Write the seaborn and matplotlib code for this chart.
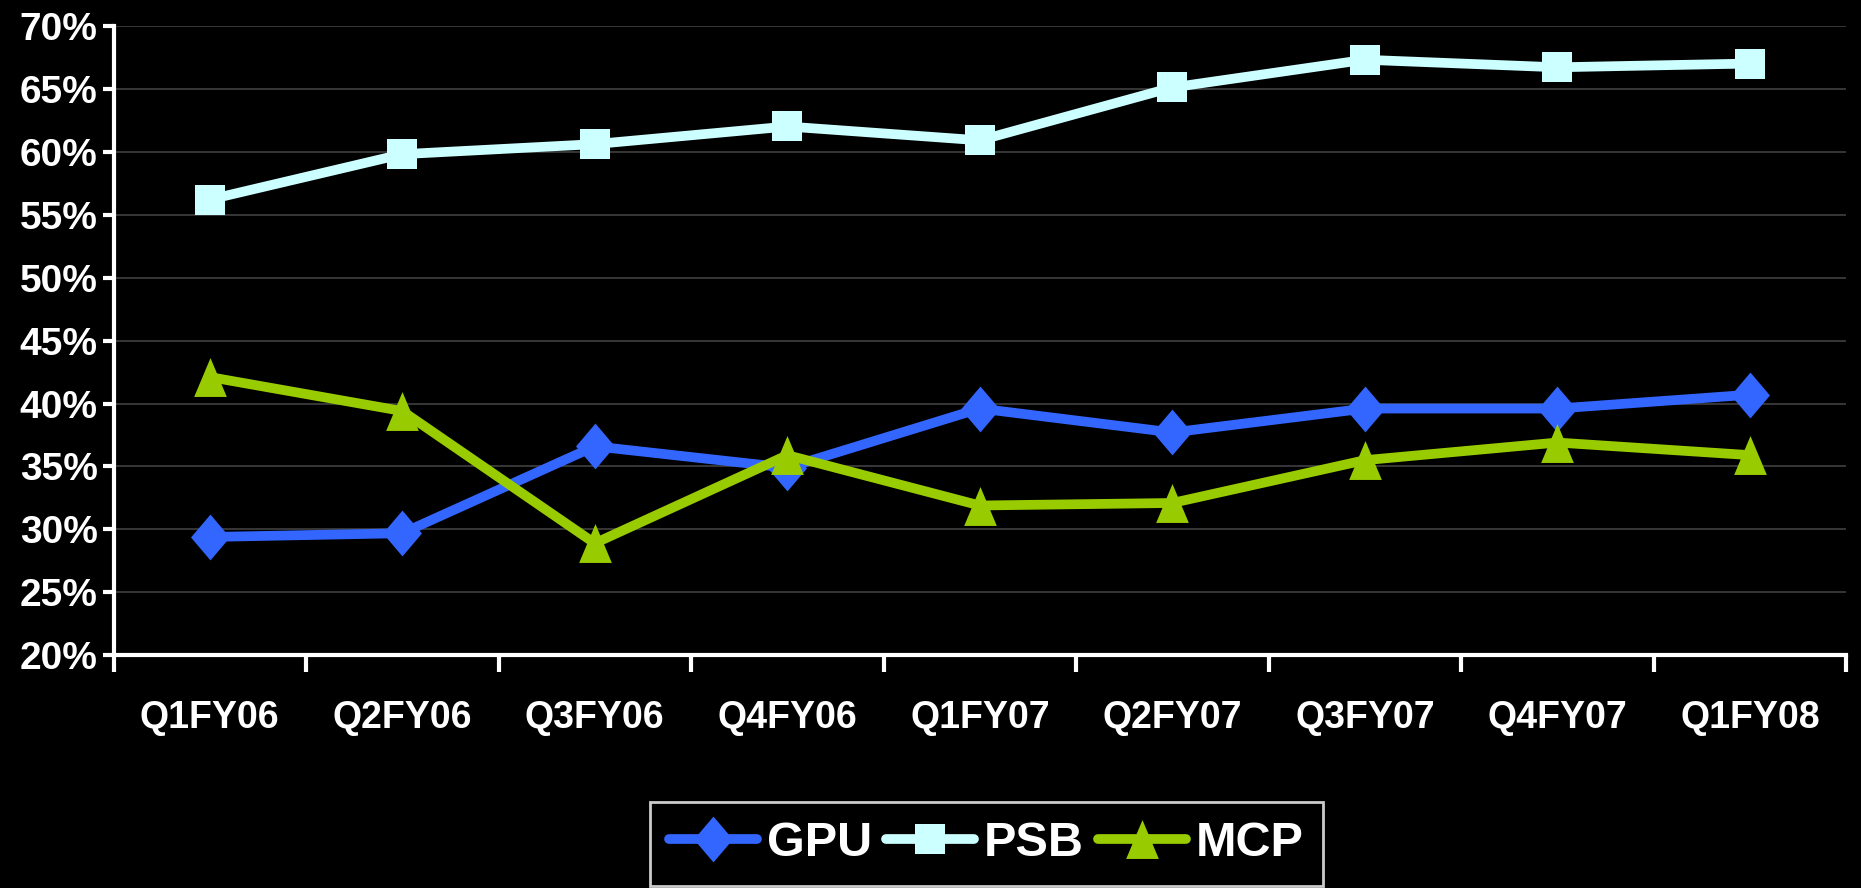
import matplotlib.pyplot as plt
import seaborn as sns
import pandas as pd
from matplotlib.path import Path
from matplotlib.ticker import MultipleLocator, FuncFormatter

quarters = ['Q1FY06', 'Q2FY06', 'Q3FY06', 'Q4FY06', 'Q1FY07',
            'Q2FY07', 'Q3FY07', 'Q4FY07', 'Q1FY08']
gpu = [29.4, 29.7, 36.6, 34.9, 39.6, 37.7, 39.6, 39.6, 40.7]
psb = [56.2, 59.8, 60.6, 62.0, 60.9, 65.1, 67.3, 66.7, 67.0]
mcp = [42.1, 39.4, 28.9, 35.9, 31.9, 32.1, 35.5, 36.9, 35.9]

colors = {'GPU': '#3366FF', 'PSB': '#CCFFFF', 'MCP': '#99CC00'}
# slightly tall diamond / triangle like the office-chart markers
diamond = Path([(0, 1), (0.85, 0), (0, -1), (-0.85, 0), (0, 1)],
               [Path.MOVETO, Path.LINETO, Path.LINETO, Path.LINETO, Path.CLOSEPOLY])
triangle = Path([(0, 1), (0.84, -1), (-0.84, -1), (0, 1)],
                [Path.MOVETO, Path.LINETO, Path.LINETO, Path.CLOSEPOLY])
markers = {'GPU': diamond, 'PSB': 's', 'MCP': triangle}
msizes = {'GPU': 33, 'PSB': 22, 'MCP': 28}

df = pd.DataFrame({'quarter': quarters * 3,
                   'x': list(range(len(quarters))) * 3,
                   'value': gpu + psb + mcp,
                   'series': ['GPU'] * 9 + ['PSB'] * 9 + ['MCP'] * 9})

sns.set_style('dark')
plt.rcParams['font.family'] = ['Liberation Sans', 'DejaVu Sans']
plt.rcParams['font.weight'] = 'bold'

fig = plt.figure(figsize=(18.61, 8.88), dpi=100, facecolor='black')
ax = fig.add_axes([0.061, 0.262, 0.931, 0.709])
ax.set_facecolor('black')

for name in ['GPU', 'PSB', 'MCP']:
    sns.lineplot(data=df[df['series'] == name], x='x', y='value',
                 color=colors[name], marker=markers[name], markersize=msizes[name],
                 markeredgewidth=0, linewidth=7, ax=ax, legend=False)

ax.set_xlim(-0.5, 8.5)
ax.set_ylim(20, 70)
ax.yaxis.set_major_locator(MultipleLocator(5))
ax.yaxis.set_major_formatter(FuncFormatter(lambda v, p: f'{v:.0f}%'))
ax.set_xticks(range(len(quarters)))
ax.set_xticklabels(quarters)
ax.set_xticks([i + 0.5 for i in range(-1, 9)], minor=True)
ax.set_xlabel('')
ax.set_ylabel('')

ax.grid(axis='y', color='#404040', linewidth=1.2)
ax.grid(axis='x', visible=False)
for side in ['top', 'right']:
    ax.spines[side].set_visible(False)
for side in ['left', 'bottom']:
    ax.spines[side].set_visible(True)
    ax.spines[side].set_color('white')
    ax.spines[side].set_linewidth(3)

ax.tick_params(axis='y', colors='white', labelsize=28, length=8, width=3, left=True)
ax.tick_params(axis='x', which='major', colors='white', labelsize=27, length=0, pad=32)
ax.tick_params(axis='x', which='minor', colors='white', length=12, width=3, bottom=True)
for lab in ax.get_xticklabels() + ax.get_yticklabels():
    lab.set_fontweight('bold')

handles = [plt.Line2D([], [], color=colors[s], marker=markers[s], linewidth=7,
                      markersize=msizes[s], markeredgewidth=0)
           for s in ['GPU', 'PSB', 'MCP']]
leg = fig.legend(handles, ['GPU', 'PSB', 'MCP'], loc='upper center', bbox_to_anchor=(0.53, 0.097),
                 ncol=3, frameon=True, facecolor='black', edgecolor='white',
                 fontsize=35, handlelength=1.8, handletextpad=0.2, columnspacing=0.3,
                 borderpad=0.4, borderaxespad=0, fancybox=False)
leg.get_frame().set_linewidth(2)
for t in leg.get_texts():
    t.set_color('white')
    t.set_fontweight('bold')

fig.savefig('out.png', dpi=100, facecolor='black')
